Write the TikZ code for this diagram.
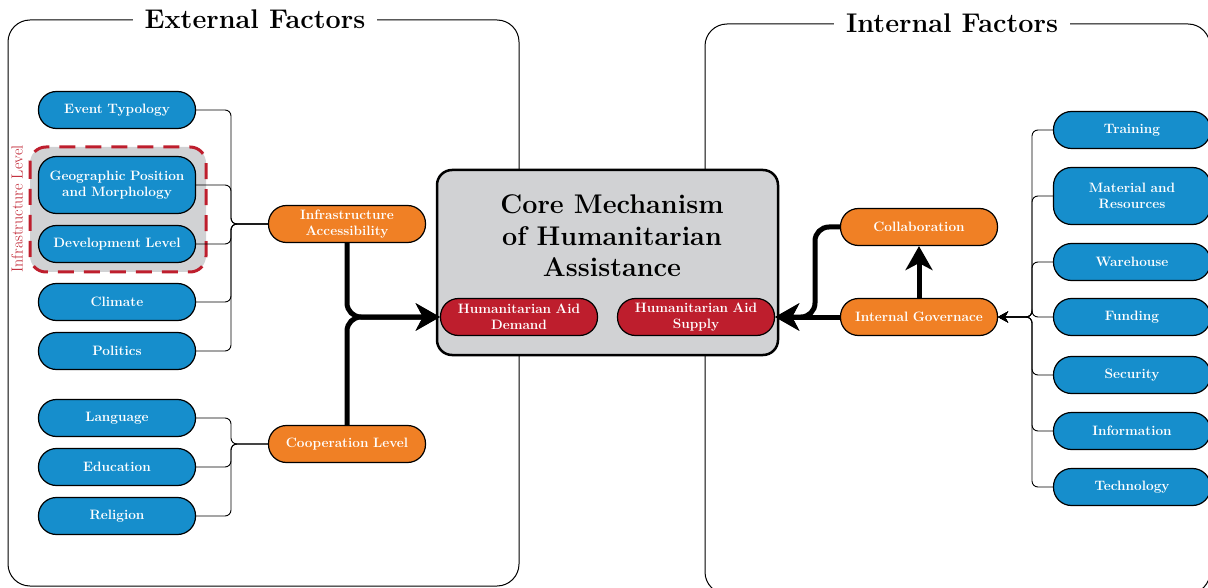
\documentclass[tikz,border=0pt]{standalone}
\usepackage{fontspec}
\usepackage{tikz}
\usetikzlibrary{arrows.meta}
\definecolor{factorblue}{RGB}{22,142,204}
\definecolor{driverorange}{RGB}{240,128,37}
\definecolor{aidred}{RGB}{190,30,45}
\definecolor{coregray}{RGB}{209,210,212}
\tikzset{
    pill/.style={draw=black, line width=1.2pt, rounded corners=18pt,
        minimum width=157pt, minimum height=37pt, text width=152pt,
        align=center, inner sep=2pt, text=white,
        font=\fontsize{13.6}{16}\selectfont\bfseries},
    factor/.style={pill, fill=factorblue},
    driver/.style={pill, fill=driverorange},
    aid/.style={pill, fill=aidred},
    link/.style={line width=0.9pt, rounded corners=6pt},
    flow/.style={line width=5pt, rounded corners=14pt,
        -{Stealth[length=24pt,width=27pt,inset=7pt]}},
    frame/.style={line width=1pt, rounded corners=22pt},
    frametitle/.style={fill=white, inner xsep=12pt, inner ysep=2pt,
        font=\fontsize{27}{32}\selectfont\bfseries},
}

\begin{document}
\begin{tikzpicture}[x=1pt,y=-1pt]
    \useasboundingbox (0,0) rectangle (1208,588);
    \clip (0,0) rectangle (1208,588);
    % the two frames
    \draw[frame] (8,20) rectangle (519,586);
    \draw[frame] (705,24) rectangle (1210,594);
    \node[frametitle] (external) at (255,19) {External Factors};
    \node[frametitle] (internal) at (952,23) {Internal Factors};

    % core mechanism
    \node[draw, line width=2.5pt, fill=coregray, rounded corners=15pt, minimum width=341pt, minimum height=185pt] (core) at (607.5,262.5) {};
    \node[align=center, font=\fontsize{27}{31.5}\selectfont\bfseries] (coretitle) at (612,236) {Core Mechanism\\of Humanitarian\\Assistance};
    \node[aid] (demand) at (519,317) {Humanitarian Aid\\Demand};
    \node[aid] (supply) at (696,317) {Humanitarian Aid\\Supply};

    % infrastructure group
    \draw[line width=3pt, draw=aidred, fill=coregray, dash pattern=on 16pt off 10pt, rounded corners=16pt] (30,147) rectangle (206,272);
    \node[rotate=90, text=aidred, font=\fontsize{16}{19}\selectfont] (infralevel) at (17,209) {Infrastructure Level};

    % external factors
    \node[factor] (event) at (117,110) {Event Typology};
    \node[factor, minimum height=57pt] (geo) at (117,185) {Geographic Position\\and Morphology};
    \node[factor] (devel) at (117,244) {Development Level};
    \node[factor] (climate) at (117,302) {Climate};
    \node[factor] (politics) at (117,351) {Politics};
    \node[factor] (language) at (117,418) {Language};
    \node[factor] (education) at (117,467) {Education};
    \node[factor] (religion) at (117,516) {Religion};
    \node[driver] (infra) at (347,224) {Infrastructure\\Accessibility};
    \node[driver] (coop) at (347,444) {Cooperation Level};

    % internal factors
    \node[driver] (collab) at (919,227) {Collaboration};
    \node[driver] (gov) at (919,317) {Internal Governace};
    \node[factor] (training) at (1132,130) {Training};
    \node[factor, minimum height=57pt] (material) at (1132,196) {Material and\\Resources};
    \node[factor] (warehouse) at (1132,262) {Warehouse};
    \node[factor] (funding) at (1132,317) {Funding};
    \node[factor] (security) at (1132,375) {Security};
    \node[factor] (information) at (1132,431) {Information};
    \node[factor] (technology) at (1132,487) {Technology};

    % thin links
    \coordinate (infrajoin) at (231,224);
    \coordinate (coopjoin) at (231,444);
    \coordinate (govjoin) at (1032,317);
    \foreach \n in {event,geo,devel,climate,politics}
        \draw[link] (\n.east) -| (infrajoin) -- (infra.west);
    \foreach \n in {language,education,religion}
        \draw[link] (\n.east) -| (coopjoin) -- (coop.west);
    \foreach \n in {training,material,warehouse,funding,security,information,technology}
        \draw[link, -{Stealth[length=10pt,width=11pt]}] (\n.west) -| (govjoin) -- (gov.east);

    % thick flows
    \coordinate (demandjoin) at (347,317);
    \coordinate (supplyjoin) at (815,317);
    \draw[flow] (infra.south) -- (demandjoin) -- (demand.west);
    \draw[flow] (coop.north) -- (demandjoin) -- (demand.west);
    \draw[flow] (collab.west) -| (supplyjoin) -- (supply.east);
    \draw[flow] (gov.west) -- (supply.east);
    \draw[flow] (gov.north) -- (collab.south);
\end{tikzpicture}
\end{document}
